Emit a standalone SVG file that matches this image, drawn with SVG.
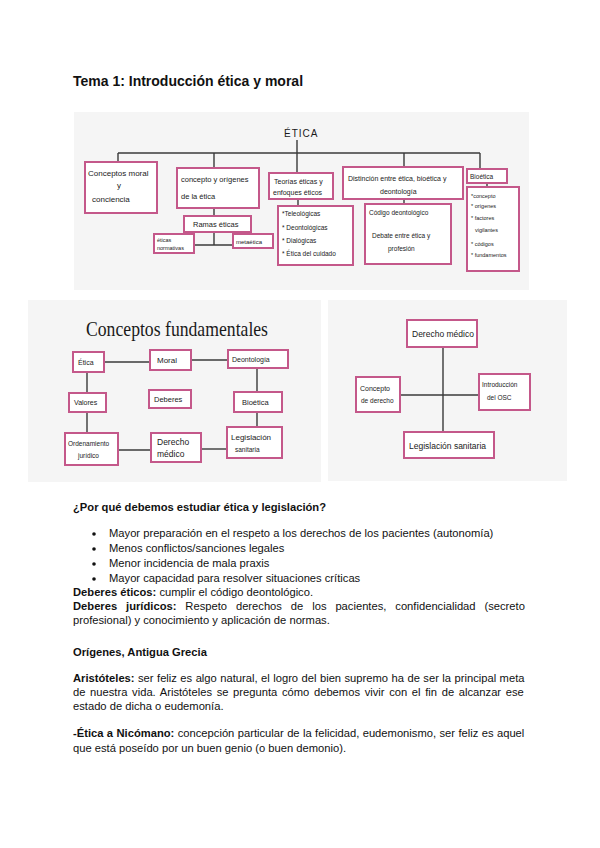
<svg xmlns="http://www.w3.org/2000/svg" width="600" height="848" viewBox="0 0 600 848">
<style>
.bg{fill:#ffffff}
.panel{fill:#f5f5f5}
.box{fill:#ffffff;stroke:#c4588a;stroke-width:2}
.ln{stroke:#3a3a3a;stroke-width:1.4;fill:none}
.hw{font-family:"Liberation Sans","DejaVu Sans",sans-serif;fill:#1a1a1a}
.t{font-family:"Liberation Sans",Arial,sans-serif;font-size:11.2px;fill:#111}
.b{font-weight:bold}
</style>
<rect class="bg" x="0" y="0" width="600" height="848"/>
<text class="t b" x="73" y="86" style="font-size:14px">Tema 1: Introducción ética y moral</text>

<!-- panel 1 -->
<rect class="panel" x="74" y="112" width="455" height="178"/>
<g id="connectors1">
<line class="ln" x1="297" y1="140" x2="297" y2="173" stroke-width="2"/>
<line class="ln" x1="118" y1="153" x2="480" y2="153"/>
<line class="ln" x1="118" y1="153" x2="118" y2="162" stroke-width="2"/>
<line class="ln" x1="214" y1="153" x2="214" y2="168" stroke-width="2"/>
<line class="ln" x1="404" y1="153" x2="404" y2="167" stroke-width="2"/>
<line class="ln" x1="480" y1="153" x2="480" y2="169" stroke-width="2"/>
<line class="ln" x1="214" y1="208" x2="214" y2="216"/>
<line class="ln" x1="214" y1="232" x2="214" y2="245"/>
<line class="ln" x1="194" y1="245" x2="233" y2="245"/>
<line class="ln" x1="298" y1="199" x2="298" y2="206"/>
<line class="ln" x1="404" y1="199" x2="404" y2="204"/>
<line class="ln" x1="487" y1="183" x2="487" y2="187"/>
</g>
<g id="etica"><text class="hw" x="284" y="137" font-size="10" letter-spacing="1">ÉTICA</text></g>
<g id="conceptos-moral"><rect class="box" x="85" y="162" width="72" height="51"/>
<text class="hw" x="88" y="176" font-size="8">Conceptos moral</text>
<text class="hw" x="117" y="188" font-size="8">y</text>
<text class="hw" x="92" y="202" font-size="8">conciencia</text></g>
<g id="concepto-origenes"><rect class="box" x="177" y="168" width="82" height="40"/>
<text class="hw" x="181" y="182" font-size="7.5">concepto y orígenes</text>
<text class="hw" x="181" y="199" font-size="7.5">de la  ética</text></g>
<g id="ramas"><rect class="box" x="184" y="216" width="67" height="16"/>
<text class="hw" x="193" y="227" font-size="7.5">Ramas éticas</text></g>
<g id="normativas"><rect class="box" x="154" y="234" width="40" height="19"/>
<text class="hw" x="157" y="242" font-size="5.5">éticas</text>
<text class="hw" x="157" y="250" font-size="5.5">normativas</text></g>
<g id="metaetica"><rect class="box" x="233" y="234" width="40" height="14"/>
<text class="hw" x="236" y="244" font-size="6">metaética</text></g>
<g id="teorias"><rect class="box" x="269" y="173" width="64" height="26"/>
<text class="hw" x="274" y="184" font-size="7">Teorías éticas y</text>
<text class="hw" x="273" y="195" font-size="7">enfoques éticos</text></g>
<g id="teorias-lista"><rect class="box" x="278" y="206" width="75" height="59"/>
<text class="hw" x="282" y="216" font-size="6.5">*Teleológicas</text>
<text class="hw" x="282" y="230" font-size="6.5">* Deontológicas</text>
<text class="hw" x="282" y="243" font-size="6.5">* Dialógicas</text>
<text class="hw" x="282" y="256" font-size="6.5">* Ética del cuidado</text></g>
<g id="distincion"><rect class="box" x="343" y="167" width="120" height="32"/>
<text class="hw" x="348" y="181" font-size="7">Distinción entre ética, bioética y</text>
<text class="hw" x="380" y="194" font-size="7">deontología</text></g>
<g id="codigo"><rect class="box" x="365" y="204" width="86" height="60"/>
<text class="hw" x="369" y="215" font-size="6.5">Código deontológico</text>
<text class="hw" x="372" y="238" font-size="6.5">Debate entre ética y</text>
<text class="hw" x="388" y="251" font-size="6.5">profesión</text></g>
<g id="bioetica"><rect class="box" x="467" y="169" width="40" height="14"/>
<text class="hw" x="470" y="179" font-size="6.5">Bioética</text></g>
<g id="bioetica-lista"><rect class="box" x="467" y="187" width="52" height="84"/>
<text class="hw" x="471" y="198" font-size="5.5">*concepto</text>
<text class="hw" x="471" y="208" font-size="5.5">* orígenes</text>
<text class="hw" x="471" y="220" font-size="5.5">* factores</text>
<text class="hw" x="475" y="232" font-size="5.5">vigilantes</text>
<text class="hw" x="471" y="246" font-size="5.5">* códigos</text>
<text class="hw" x="471" y="257" font-size="5.5">* fundamentos</text></g>

<!-- panel 2 -->
<rect class="panel" x="28" y="300" width="293" height="182"/>
<text x="86" y="336" textLength="182" lengthAdjust="spacingAndGlyphs" style="font-family:'Liberation Serif','DejaVu Serif',serif;font-size:21px;fill:#1a1a1a">Conceptos fundamentales</text>
<g id="connectors2">
<line class="ln" x1="104" y1="362" x2="150" y2="362"/>
<line class="ln" x1="191" y1="360" x2="228" y2="360"/>
<line class="ln" x1="87" y1="372" x2="87" y2="393"/>
<line class="ln" x1="87" y1="412" x2="87" y2="433"/>
<line class="ln" x1="257" y1="368" x2="257" y2="392"/>
<line class="ln" x1="257" y1="412" x2="257" y2="427"/>
<line class="ln" x1="118" y1="450" x2="151" y2="450"/>
<line class="ln" x1="201" y1="449" x2="227" y2="449"/>
</g>
<g id="cf-etica"><rect class="box" x="73" y="352" width="31" height="20"/><text class="hw" x="78" y="365" font-size="7">Ética</text></g>
<g id="cf-moral"><rect class="box" x="150" y="350" width="41" height="20"/><text class="hw" x="157" y="363" font-size="8">Moral</text></g>
<g id="cf-deontologia"><rect class="box" x="228" y="350" width="60" height="18"/><text class="hw" x="232" y="362" font-size="7">Deontología</text></g>
<g id="cf-valores"><rect class="box" x="69" y="393" width="37" height="19"/><text class="hw" x="74" y="405" font-size="7">Valores</text></g>
<g id="cf-deberes"><rect class="box" x="149" y="390" width="42" height="18"/><text class="hw" x="154" y="402" font-size="7.5">Deberes</text></g>
<g id="cf-bioetica"><rect class="box" x="234" y="392" width="48" height="20"/><text class="hw" x="242" y="405" font-size="7.5">Bioética</text></g>
<g id="cf-ordenamiento"><rect class="box" x="65" y="433" width="53" height="32"/><text class="hw" x="68" y="446" font-size="6.5">Ordenamiento</text><text class="hw" x="78" y="458" font-size="6.5">jurídico</text></g>
<g id="cf-derecho"><rect class="box" x="151" y="433" width="50" height="29"/><text class="hw" x="157" y="445" font-size="8.5">Derecho</text><text class="hw" x="157" y="457" font-size="8.5">médico</text></g>
<g id="cf-legislacion"><rect class="box" x="227" y="427" width="55" height="31"/><text class="hw" x="231" y="440" font-size="8">Legislación</text><text class="hw" x="235" y="452" font-size="6.5">sanitaria</text></g>

<!-- panel 3 -->
<rect class="panel" x="328" y="300" width="239" height="181"/>
<g id="connectors3">
<line class="ln" x1="443" y1="347" x2="443" y2="432" stroke-width="1.6"/>
<line class="ln" x1="400" y1="395" x2="479" y2="395" stroke-width="1"/>
</g>
<g id="dm-derecho"><rect class="box" x="407" y="320" width="70" height="27"/><text class="hw" x="412" y="337" font-size="8.5">Derecho médico</text></g>
<g id="dm-concepto"><rect class="box" x="356" y="377" width="44" height="35"/><text class="hw" x="360" y="391" font-size="7">Concepto</text><text class="hw" x="361" y="403" font-size="6.5">de derecho</text></g>
<g id="dm-introduccion"><rect class="box" x="479" y="374" width="51" height="36"/><text class="hw" x="482" y="387" font-size="6.5">Introducción</text><text class="hw" x="487" y="400" font-size="6.5">del OSC</text></g>
<g id="dm-legislacion"><rect class="box" x="404" y="432" width="90" height="26"/><text class="hw" x="409" y="449" font-size="8.5">Legislación sanitaria</text></g>

<!-- body text -->
<text class="t b" x="73" y="511">¿Por qué debemos estudiar ética y legislación?</text>
<g fill="#111"><circle cx="94" cy="534" r="1.8"/><circle cx="94" cy="549" r="1.8"/><circle cx="94" cy="564" r="1.8"/><circle cx="94" cy="579" r="1.8"/></g>
<text class="t" x="109" y="537">Mayor preparación en el respeto a los derechos de los pacientes (autonomía)</text>
<text class="t" x="109" y="552">Menos conflictos/sanciones legales</text>
<text class="t" x="109" y="567">Menor incidencia de mala praxis</text>
<text class="t" x="109" y="582">Mayor capacidad para resolver situaciones críticas</text>
<text class="t" x="73" y="596"><tspan class="b">Deberes éticos:</tspan> cumplir el código deontológico.</text>
<text class="t" x="73" y="610" word-spacing="5.8"><tspan class="b">Deberes jurídicos:</tspan> Respeto derechos de los pacientes, confidencialidad (secreto</text>
<text class="t" x="73" y="624">profesional) y conocimiento y aplicación de normas.</text>
<text class="t b" x="73" y="656">Orígenes, Antigua Grecia</text>
<text class="t" x="73" y="682" word-spacing="0.35"><tspan class="b">Aristóteles:</tspan> ser feliz es algo natural, el logro del bien supremo ha de ser la principal meta</text>
<text class="t" x="73" y="696" word-spacing="1.55">de nuestra vida. Aristóteles se pregunta cómo debemos vivir con el fin de alcanzar ese</text>
<text class="t" x="73" y="710">estado de dicha o eudemonía.</text>
<text class="t" x="73" y="737" word-spacing="0.3"><tspan class="b">-Ética a Nicómano:</tspan> concepción particular de la felicidad, eudemonismo, ser feliz es aquel</text>
<text class="t" x="73" y="752">que está poseído por un buen genio (o buen demonio).</text>
</svg>
